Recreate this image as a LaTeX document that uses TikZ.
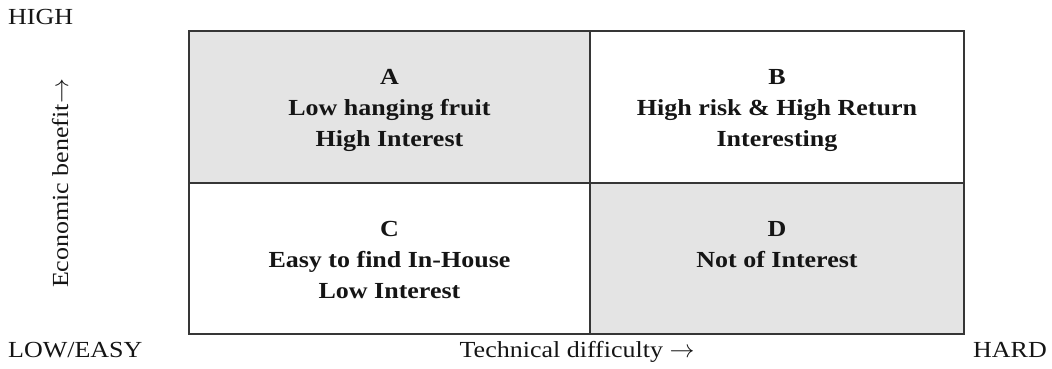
\documentclass[tikz,border=0pt]{standalone}
\usepackage{fontspec}
\setmainfont{Liberation Serif}[FakeStretch=1.13]
\definecolor{cellgray}{HTML}{E4E4E4}
\definecolor{linegray}{HTML}{363636}
\definecolor{ink}{HTML}{151515}
\tikzset{
  cell/.style={draw=linegray, line width=1.1pt},
  hot/.style={cell, fill=cellgray},
  celltext/.style={anchor=north, inner sep=0pt, align=center, text=ink,
    font=\fontsize{23}{31}\selectfont\bfseries},
  axislabel/.style={inner sep=0pt, text=ink, font=\fontsize{23}{28}\selectfont}
}
\begin{document}
\begin{tikzpicture}[x=1pt,y=-1pt]
\useasboundingbox (0,0) rectangle (1052,368);
% cells
\path[hot]  (189,31)  rectangle (590,183);
\path[cell] (590,31)  rectangle (964,183);
\path[cell] (189,183) rectangle (590,334);
\path[hot]  (590,183) rectangle (964,334);
\coordinate (cA) at (389.5,69);
\coordinate (cB) at (777,69);
\coordinate (cC) at (389.5,221);
\coordinate (cD) at (777,221);
\node[celltext] (tA) at (cA) {A\\Low hanging fruit\\High Interest};
\node[celltext] (tB) at (cB) {B\\High risk \& High Return\\Interesting};
\node[celltext] (tC) at (cC) {C\\Easy to find In-House\\Low Interest};
\node[celltext] (tD) at (cD) {D\\Not of Interest};
% axis labels
\node[axislabel, anchor=base west] (high) at (8,24) {HIGH};
\node[axislabel, anchor=base west] (low) at (8,357) {LOW/EASY};
\node[axislabel, anchor=base east] (hard) at (1047,357) {HARD};
\node[axislabel, anchor=base] (tech) at (577,357) {Technical difficulty $\rightarrow$};
\node[axislabel, anchor=base, rotate=90] (econ) at (68,183.5) {Economic benefit$\rightarrow$};
\end{tikzpicture}
\end{document}
